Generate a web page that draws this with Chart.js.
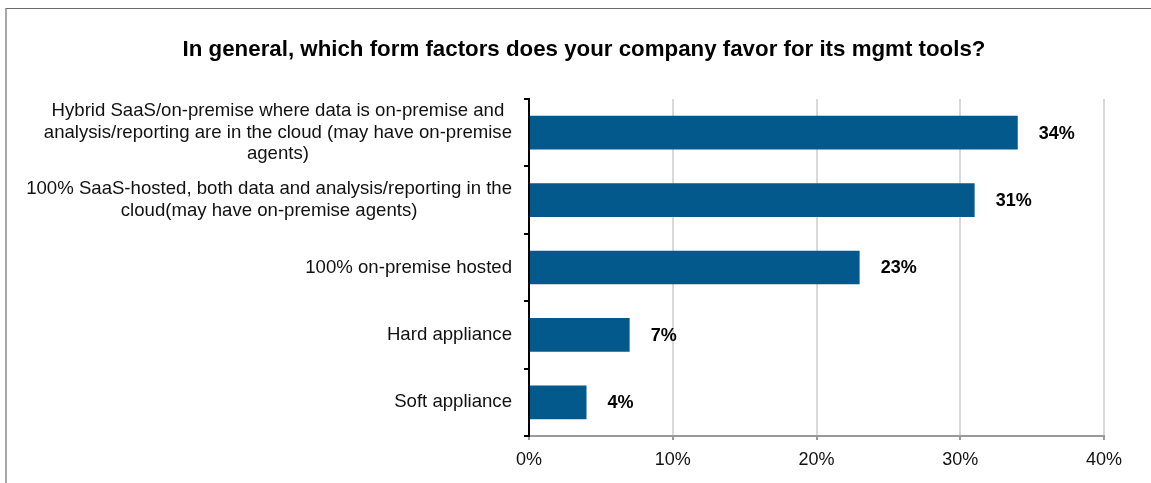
<!DOCTYPE html>
<html>
<head>
<meta charset="utf-8">
<script src="https://cdn.jsdelivr.net/npm/chart.js@4.4.1/dist/chart.umd.min.js"></script>
<style>
  html, body { margin: 0; padding: 0; background: #fff; }
  #wrap { position: relative; width: 1151px; height: 483px; overflow: hidden; }
  #frame {
    position: absolute; left: 5px; top: 8px; width: 1200px; height: 500px;
    border-top: 1px solid #6b6b6b; border-left: 2px solid #a8a8a8;
    pointer-events: none;
  }
  canvas { position: absolute; left: 0; top: 0; }
</style>
</head>
<body>
<div id="wrap">
  <canvas id="formChart" width="1151" height="483"></canvas>
  <div id="frame"></div>
</div>
<script>
// ---- data ----
const TITLE = 'In general, which form factors does your company favor for its mgmt tools?';
const categories = [
  ['Hybrid SaaS/on-premise where data is on-premise and',
   'analysis/reporting are in the cloud (may have on-premise',
   'agents)'],
  ['100% SaaS-hosted, both data and analysis/reporting in the',
   'cloud(may have on-premise agents)'],
  ['100% on-premise hosted'],
  ['Hard appliance'],
  ['Soft appliance']
];
const shares = [34, 31, 23, 7, 4];
const xTicks = [0, 10, 20, 30, 40];

const FONT = "'Liberation Sans', Arial, sans-serif";
const BAR_BLUE = '#03598c';

// title, category labels and value labels drawn by hand
const labelsPlugin = {
  id: 'labels',
  afterDraw(chart) {
    const ctx = chart.ctx;
    const y = chart.scales.y;
    const meta = chart.getDatasetMeta(0);
    ctx.save();

    // title
    ctx.fillStyle = '#000';
    ctx.font = 'bold 22.3px ' + FONT;
    ctx.textAlign = 'center';
    ctx.textBaseline = 'alphabetic';
    ctx.fillText(TITLE, 584, 56);

    // category labels: block right-aligned, lines centred inside it
    ctx.font = '18.6px ' + FONT;
    ctx.fillStyle = '#111';
    ctx.textBaseline = 'middle';
    const lineH = 21.5;
    categories.forEach((lines, i) => {
      const cy = y.getPixelForTick(i);
      const w = Math.max(...lines.map(l => ctx.measureText(l).width));
      const cx = 512 - w / 2;
      lines.forEach((l, j) => {
        ctx.fillText(l, cx, cy + (j - (lines.length - 1) / 2) * lineH);
      });
    });

    // value labels
    ctx.font = 'bold 18px ' + FONT;
    ctx.fillStyle = '#000';
    ctx.textAlign = 'left';
    meta.data.forEach((bar, i) => {
      ctx.fillText(shares[i] + '%', bar.x + 21, bar.y + 1);
    });
    ctx.restore();
  }
};

new Chart(document.getElementById('formChart'), {
  type: 'bar',
  data: {
    labels: categories,
    datasets: [{
      data: shares,
      backgroundColor: BAR_BLUE,
      borderWidth: 0,
      barPercentage: 0.5,
      categoryPercentage: 1
    }]
  },
  options: {
    indexAxis: 'y',
    responsive: false,
    animation: false,
    layout: { padding: { top: 99, right: 47, left: 0, bottom: 0 } },
    plugins: {
      legend: { display: false },
      tooltip: { enabled: false },
      title: { display: false }
    },
    scales: {
      x: {
        min: 0,
        max: 40,
        afterBuildTicks: s => { s.ticks = xTicks.map(v => ({ value: v })); },
        afterFit: s => { s.height = 47; },
        grid: {
          color: '#d9d9d9',
          lineWidth: 2,
          tickColor: '#999',
          tickLength: 4
        },
        border: { color: '#999', width: 2 },
        ticks: {
          padding: 9,
          color: '#111',
          font: { family: FONT, size: 18 },
          callback: v => v + '%'
        }
      },
      y: {
        afterFit: s => { s.width = 529; },
        grid: {
          drawOnChartArea: false,
          drawTicks: true,
          tickLength: 5,
          tickColor: '#000',
          lineWidth: 2
        },
        border: { color: '#000', width: 2 },
        ticks: { display: false }
      }
    }
  },
  plugins: [labelsPlugin]
});
</script>
</body>
</html>
